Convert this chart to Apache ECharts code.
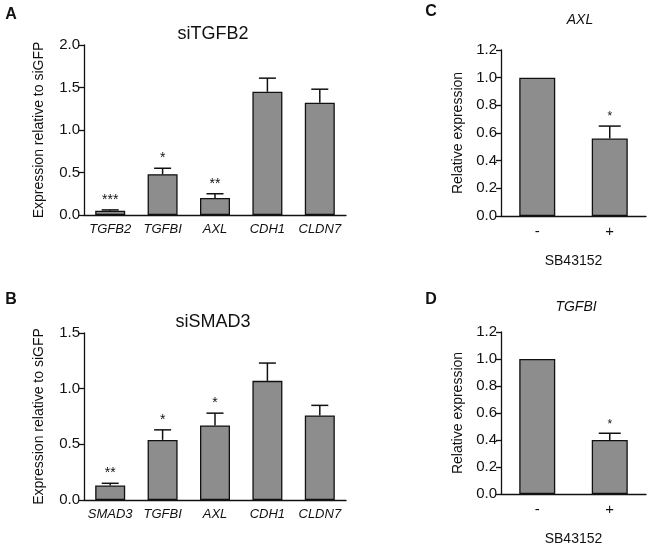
<!DOCTYPE html>
<html><head><meta charset="utf-8">
<script src="https://cdn.jsdelivr.net/npm/echarts@6/dist/echarts.min.js"></script>
<style>html,body{margin:0;padding:0;background:#fff}#c{width:650px;height:547px}</style>
</head><body><div id="c"></div>
<script>
const catsA = ['TGFB2','TGFBI','AXL','CDH1','CLDN7'];
const meanA = [0.05, 0.48, 0.20, 1.45, 1.32];
const errA  = [0.01, 0.07, 0.05, 0.16, 0.16];
const sigA  = ['***','*','**','',''];

const catsB = ['SMAD3','TGFBI','AXL','CDH1','CLDN7'];
const meanB = [0.13, 0.54, 0.67, 1.07, 0.76];
const errB  = [0.02, 0.09, 0.11, 0.16, 0.09];
const sigB  = ['**','*','*','',''];

const catsC = ['-','+'];
const meanC = [1.0, 0.56];
const errC  = [0, 0.09];
const sigC  = ['','*'];

const catsD = ['-','+'];
const meanD = [1.0, 0.40];
const errD  = [0, 0.05];
const sigD  = ['','*'];

const yTicksA = [0, 2.0, 0.5];
const yTicksB = [0, 1.5, 0.5];
const yTicksCD = [0, 1.2, 0.2];

const FF = 'Arial, "Liberation Sans", sans-serif';
const BAR = '#8d8d8d';

function errSeries(idx, means, errs, sigs, capHalf, starSize) {
  return {
    type: 'custom', xAxisIndex: idx, yAxisIndex: idx, z: 5,
    data: means.map((m, i) => [i, m, errs[i]]),
    renderItem: function (params, api) {
      const i = api.value(0), m = api.value(1), e = api.value(2);
      const p0 = api.coord([i, m]);
      const p1 = api.coord([i, m + e]);
      const ch = [];
      const st = { stroke: '#111', lineWidth: 1.5 };
      if (e > 0) {
        ch.push({ type: 'line', shape: { x1: p0[0], y1: p0[1], x2: p1[0], y2: p1[1] }, style: st });
        ch.push({ type: 'line', shape: { x1: p1[0] - capHalf, y1: p1[1], x2: p1[0] + capHalf, y2: p1[1] }, style: st });
      }
      const s = sigs[params.dataIndex];
      if (s) {
        ch.push({ type: 'text', style: { text: s, x: p1[0], y: p1[1] - 3, align: 'center', verticalAlign: 'bottom',
          font: starSize + 'px ' + FF, fill: '#111' } });
      }
      return { type: 'group', children: ch };
    }
  };
}

function barSeries(idx, means, bw) {
  return { type: 'bar', xAxisIndex: idx, yAxisIndex: idx, data: means, barWidth: bw,
    itemStyle: { color: BAR, borderColor: '#111', borderWidth: 1.3 } };
}

function xAx(idx, cats, italic, name, labelSize) {
  return { type: 'category', gridIndex: idx, data: cats,
    axisLine: { show: true, lineStyle: { color: '#111', width: 1.3 } },
    axisTick: { show: false },
    axisLabel: { color: '#111', fontSize: labelSize, fontFamily: FF, fontStyle: italic ? 'italic' : 'normal', margin: 8, interval: 0 },
    name: name || '', nameLocation: 'middle', nameGap: 38,
    nameTextStyle: { color: '#111', fontSize: 14, fontFamily: FF } };
}

function yAx(idx, t, name, gap) {
  return { type: 'value', gridIndex: idx, min: t[0], max: t[1], interval: t[2],
    axisLine: { show: true, lineStyle: { color: '#111', width: 1.3 } },
    axisTick: { show: true, length: 5, lineStyle: { color: '#111', width: 1.3 } },
    splitLine: { show: false },
    axisLabel: { color: '#111', fontSize: 15, fontFamily: FF, margin: 4, formatter: v => v.toFixed(1) },
    name: name, nameLocation: 'middle', nameGap: gap,
    nameTextStyle: { color: '#111', fontSize: 14, fontFamily: FF } };
}

function txt(x, y, s, font) {
  return { type: 'text', x: x, y: y, style: { text: s, font: font, fill: '#111',
    align: 'center', verticalAlign: 'middle' } };
}

const chart = echarts.init(document.getElementById('c'));
chart.setOption({
  animation: false,
  grid: [
    { left: 84, top: 45, width: 262, height: 170 },
    { left: 84, top: 333, width: 262, height: 167 },
    { left: 501, top: 50, width: 145, height: 166 },
    { left: 501, top: 332, width: 145, height: 168 }
  ],
  xAxis: [
    xAx(0, catsA, true, '', 13),
    xAx(1, catsB, true, '', 13),
    xAx(2, catsC, false, 'SB43152', 15),
    xAx(3, catsD, false, 'SB43152', 15)
  ],
  yAxis: [
    yAx(0, yTicksA, 'Expression relative to siGFP', 38),
    yAx(1, yTicksB, 'Expression relative to siGFP', 38),
    yAx(2, yTicksCD, 'Relative expression', 36),
    yAx(3, yTicksCD, 'Relative expression', 36)
  ],
  series: [
    barSeries(0, meanA, 30), errSeries(0, meanA, errA, sigA, 8.5, 14),
    barSeries(1, meanB, 30), errSeries(1, meanB, errB, sigB, 8.5, 14),
    barSeries(2, meanC, 36), errSeries(2, meanC, errC, sigC, 11, 12),
    barSeries(3, meanD, 36), errSeries(3, meanD, errD, sigD, 11, 12)
  ],
  graphic: [
    txt(11, 15, 'A', 'bold 16px ' + FF),
    txt(11, 300, 'B', 'bold 16px ' + FF),
    txt(431, 12, 'C', 'bold 16px ' + FF),
    txt(431, 300, 'D', 'bold 16px ' + FF),
    txt(213, 34, 'siTGFB2', '18px ' + FF),
    txt(213, 322, 'siSMAD3', '18px ' + FF),
    txt(580, 20, 'AXL', 'italic 14px ' + FF),
    txt(576, 307, 'TGFBI', 'italic 14px ' + FF)
  ]
});
</script></body></html>
